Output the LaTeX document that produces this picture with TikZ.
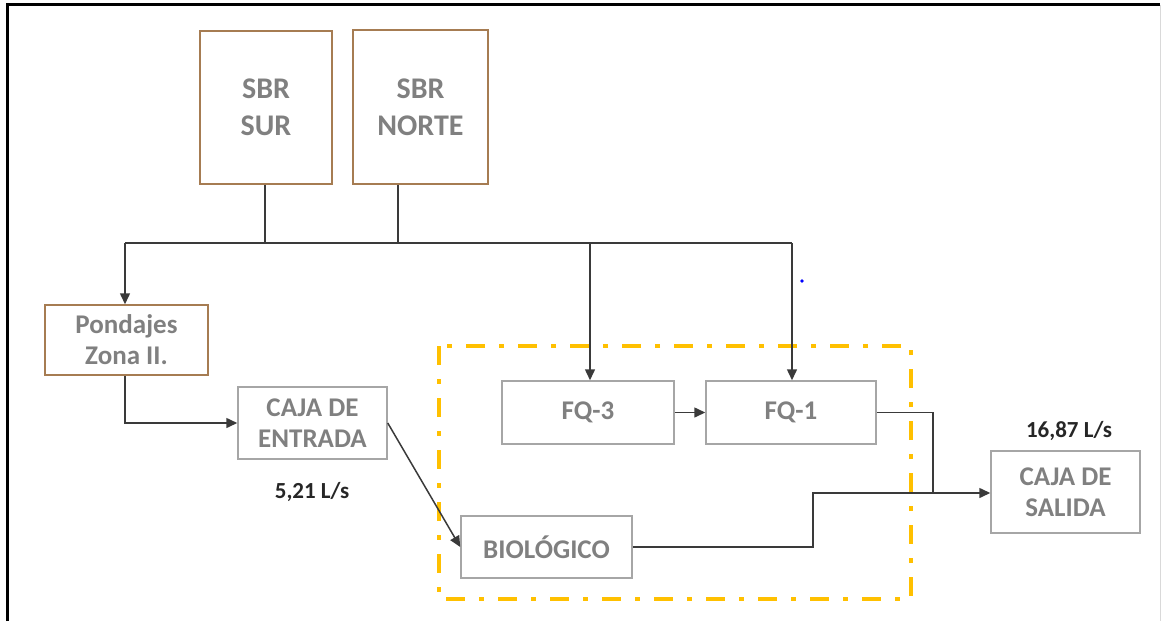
\documentclass[tikz,border=0pt]{standalone}
\usepackage{fontspec}
\setmainfont{Carlito}
\usetikzlibrary{arrows.meta}
\definecolor{brownb}{HTML}{A67C52}
\definecolor{grayb}{HTML}{A6A6A6}
\definecolor{txtgray}{HTML}{808080}
\definecolor{lineg}{HTML}{3A3A3A}
\definecolor{orangeb}{HTML}{FFC000}
\tikzset{
  boxbase/.style={draw, line width=1.5pt, inner sep=0pt, text=txtgray, align=center,
    font=\bfseries\fontsize{27}{31}\selectfont},
  brownbox/.style={boxbase, draw=brownb},
  graybox/.style={boxbase, draw=grayb},
  sbrbox/.style={brownbox, font=\bfseries\fontsize{30}{37}\selectfont},
  conn/.style={draw=lineg, line width=1.5pt},
  arr/.style={conn, -{Triangle[length=11pt,width=10pt]}},
  flowlabel/.style={font=\bfseries\fontsize{23}{27}\selectfont, text=black!85, inner sep=0pt}
}
\begin{document}
\begin{tikzpicture}[x=1pt,y=-1pt]
\useasboundingbox (0,0) rectangle (1161,621);
% frame
\draw[line width=2.2pt, black] (7.5,621) -- (7.5,4.5) -- (1160,4.5);
\draw[line width=1pt, black!15] (1160,4.5) -- (1160,621);
% orange group
\draw[orangeb, line width=4pt, dash pattern=on 19pt off 14pt on 5pt off 14pt] (439,346) rectangle (911,599);
% boxes
\node[sbrbox, minimum width=132pt, minimum height=153pt] (sur) at (266,107.5) {SBR\\SUR};
\node[sbrbox, minimum width=135pt, minimum height=154pt] (norte) at (420.5,107) {SBR\\NORTE};
\node[brownbox, minimum width=163pt, minimum height=70pt] (pond) at (126.5,340) {Pondajes\\Zona II.};
\node[graybox, minimum width=149pt, minimum height=72pt] (entrada) at (312.5,423) {CAJA DE\\ENTRADA};
\node[graybox, minimum width=172pt, minimum height=63pt] (fq3) at (588,412.5) {FQ-3};
\node[graybox, minimum width=170pt, minimum height=63pt] (fq1) at (791,412.5) {FQ-1};
\node[graybox, minimum width=171pt, minimum height=62pt] (bio) at (546.5,547) {BIOLÓGICO};
\node[graybox, minimum width=149pt, minimum height=82pt] (salida) at (1065.5,492) {CAJA DE\\SALIDA};
% labels
\node[flowlabel] (l1) at (312,492) {5,21 L/s};
\node[flowlabel] (l2) at (1069,431) {16,87 L/s};
% junction coordinates
\coordinate (j1) at (265,243);
\coordinate (j2) at (398,243);
\coordinate (jl) at (125,243);
\coordinate (jf3) at (590,243);
\coordinate (jf1) at (792,243);
\coordinate (jm) at (933,493);
\coordinate (jb) at (813,493);
% connectors
\draw[conn] (sur.south -| j1) -- (j1);
\draw[conn] (norte.south -| j2) -- (j2);
\draw[conn] (jl) -- (jf1);
\draw[arr] (jl) -- (pond.north -| jl);
\draw[arr] (jf3) -- (fq3.north -| jf3);
\draw[arr] (jf1) -- (fq1.north -| jf1);
\draw[arr] (pond.south -| jl) |- (entrada.west);
\draw[arr] (entrada.east) -- (bio.west);
\draw[arr] (fq3.east) -- (fq1.east -| fq1.west);
\draw[conn] (fq1.east) -| (jm);
\draw[conn] (bio.east) -| (jb) -- (jm);
\draw[arr] (jm) -- (salida.west |- jm);
% stray blue dot
\fill[blue] (802,281) circle (1.8pt);
\end{tikzpicture}
\end{document}
